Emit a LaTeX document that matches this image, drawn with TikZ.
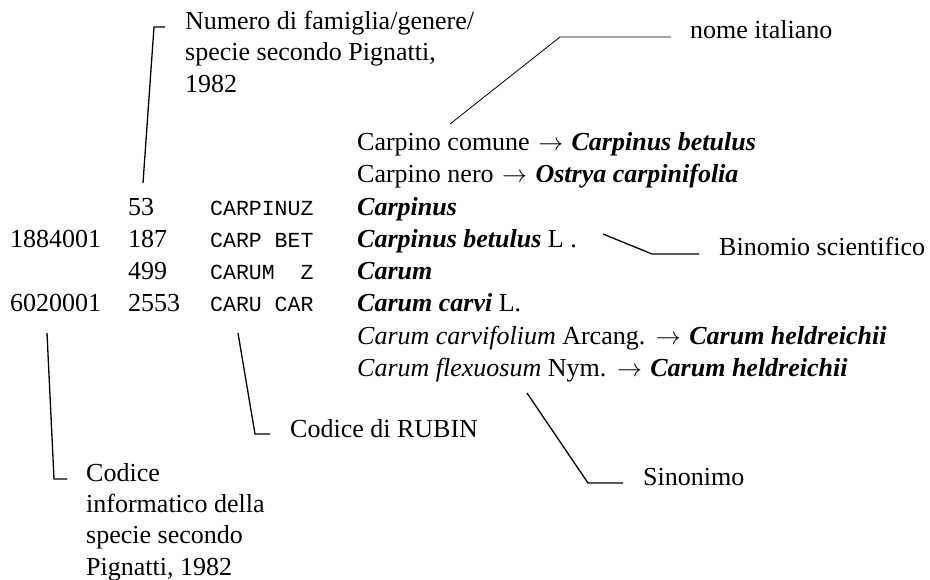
\documentclass[tikz,border=0pt]{standalone}
\usepackage{fontspec}
\setmainfont{Liberation Serif}
\setmonofont{Liberation Mono}
\begin{document}
\begin{tikzpicture}[x=1pt,y=-1pt,
  txt/.style={anchor=base west,inner sep=0pt,font=\fontsize{26}{31.3}\selectfont,align=left},
  code/.style={anchor=base west,inner sep=0pt,font=\fontsize{21.5}{31.5}\selectfont\ttfamily},
  lead/.style={line width=1.3pt},
  thinlead/.style={line width=0.8pt}]
\useasboundingbox (0,0) rectangle (930,579);
\newcommand{\bi}[1]{\textbf{\textit{#1}}}
\newcommand{\ar}{\kern2pt\ensuremath{\rightarrow}\kern2pt}
% rows
\node[txt] (n53) at (128,215) {53};
\node[txt] (c1884) at (10,247) {1884001};
\node[txt] (n187) at (128,247) {187};
\node[txt] (n499) at (128,279) {499};
\node[txt] (c6020) at (10,311) {6020001};
\node[txt] (n2553) at (128,311) {2553};
\node[code] (k1) at (210,215) {CARPINUZ};
\node[code] (k2) at (210,247) {CARP BET};
\node[code] (k3) at (210,279) {CARUM\ \ Z};
\node[code] (k4) at (210,311) {CARU CAR};
\node[txt] (it1) at (357,150) {Carpino comune \ar{} \bi{Carpinus betulus}};
\node[txt] (it2) at (357,182) {Carpino nero \ar{} \bi{Ostrya carpinifolia}};
\node[txt] (g1) at (357,215) {\bi{Carpinus}};
\node[txt] (s1) at (357,247) {\bi{Carpinus betulus} L .};
\node[txt] (g2) at (357,279) {\bi{Carum}};
\node[txt] (s2) at (357,311) {\bi{Carum carvi} L.};
\node[txt] (y1) at (357,344) {\textit{Carum carvifolium} Arcang. \ar{} \bi{Carum heldreichii}};
\node[txt] (y2) at (357,376) {\textit{Carum flexuosum} Nym. \ar{} \bi{Carum heldreichii}};
% labels (base = last line)
\node[txt] (lnum) at (185,92) {Numero di famiglia/genere/\\specie secondo Pignatti,\\1982};
\node[txt] (lit) at (690,38) {nome italiano};
\node[txt] (lbin) at (719,255) {Binomio scientifico};
\node[txt] (lrub) at (290,437) {Codice di RUBIN};
\node[txt] (lcod) at (86,575) {Codice\\informatico della\\specie secondo\\Pignatti, 1982};
\node[txt] (lsin) at (643,485) {Sinonimo};
% connectors
\coordinate (a0) at (143,183); \coordinate (a1) at (154,27); \coordinate (a2) at (165,27);
\draw[lead] (a0) -- (a1) -- (a2);
\coordinate (b0) at (450,124); \coordinate (b1) at (560,37); \coordinate (b2) at (671,37);
\draw[thinlead] (b0) -- (b1) -- (b2);
\coordinate (c0) at (603,234); \coordinate (c1) at (652,254); \coordinate (c2) at (699,254);
\draw[lead] (c0) -- (c1) -- (c2);
\coordinate (d0) at (238,333); \coordinate (d1) at (255,434); \coordinate (d2) at (270,434);
\draw[lead] (d0) -- (d1) -- (d2);
\coordinate (e0) at (47,333); \coordinate (e1) at (54,479); \coordinate (e2) at (67,479);
\draw[lead] (e0) -- (e1) -- (e2);
\coordinate (f0) at (527,393); \coordinate (f1) at (588,483); \coordinate (f2) at (623,483);
\draw[lead] (f0) -- (f1) -- (f2);
\end{tikzpicture}
\end{document}
